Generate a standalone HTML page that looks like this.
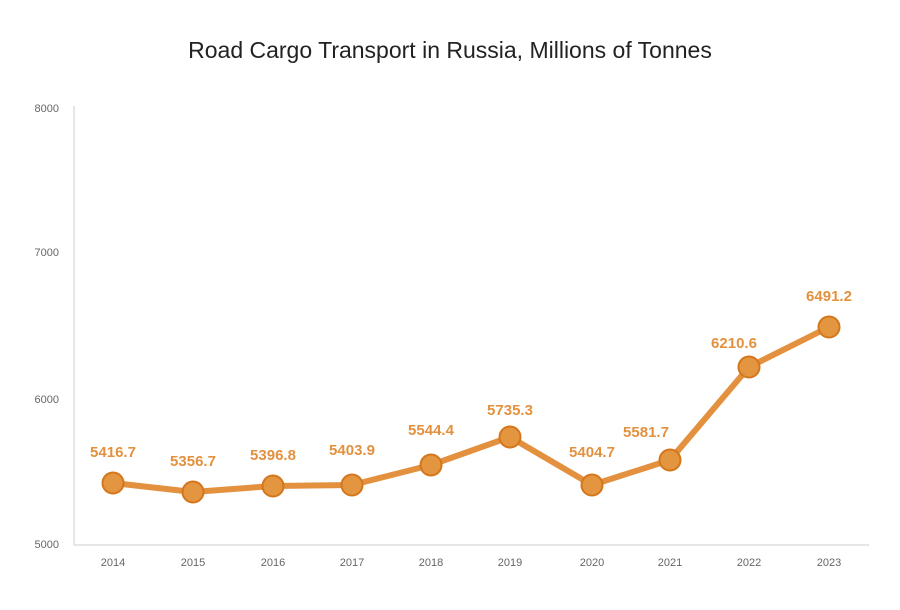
<!DOCTYPE html>
<html><head><style>body{margin:0;background:#fff}</style></head><body>
<svg width="900" height="605" xmlns="http://www.w3.org/2000/svg" font-family="Liberation Sans, sans-serif">
<rect width="900" height="605" fill="#fff"/>
<text x="450" y="58" text-anchor="middle" font-size="23" fill="#222">Road Cargo Transport in Russia, Millions of Tonnes</text>
<line x1="74" y1="106" x2="74" y2="545" stroke="#ddd" stroke-width="1.5"/>
<line x1="74" y1="545" x2="869" y2="545" stroke="#ddd" stroke-width="1.5"/>
<g font-size="11" fill="#666" text-anchor="end">
<text x="59" y="112">8000</text><text x="59" y="256">7000</text><text x="59" y="403">6000</text><text x="59" y="548">5000</text>
</g>
<g font-size="11" fill="#666" text-anchor="middle">
<text x="113" y="566">2014</text><text x="193" y="566">2015</text><text x="273" y="566">2016</text><text x="352" y="566">2017</text><text x="431" y="566">2018</text><text x="510" y="566">2019</text><text x="592" y="566">2020</text><text x="670" y="566">2021</text><text x="749" y="566">2022</text><text x="829" y="566">2023</text>
</g>
<polyline fill="none" stroke="#e3913e" stroke-width="6" stroke-linejoin="round" points="113,483 193,492 273,486 352,485 431,465 510,437 592,485 670,460 749,367 829,327"/>
<g fill="#e39540" stroke="#d4761c" stroke-width="2">
<circle cx="113" cy="483" r="10.5"/><circle cx="193" cy="492" r="10.5"/><circle cx="273" cy="486" r="10.5"/><circle cx="352" cy="485" r="10.5"/><circle cx="431" cy="465" r="10.5"/><circle cx="510" cy="437" r="10.5"/><circle cx="592" cy="485" r="10.5"/><circle cx="670" cy="460" r="10.5"/><circle cx="749" cy="367" r="10.5"/><circle cx="829" cy="327" r="10.5"/>
</g>
<g font-size="15" font-weight="bold" fill="#e3913e" text-anchor="middle">
<text x="113" y="457">5416.7</text><text x="193" y="466">5356.7</text><text x="273" y="460">5396.8</text><text x="352" y="455">5403.9</text><text x="431" y="435">5544.4</text><text x="510" y="415">5735.3</text><text x="592" y="457">5404.7</text><text x="646" y="437">5581.7</text><text x="734" y="348">6210.6</text><text x="829" y="301">6491.2</text>
</g>
</svg>
</body></html>
